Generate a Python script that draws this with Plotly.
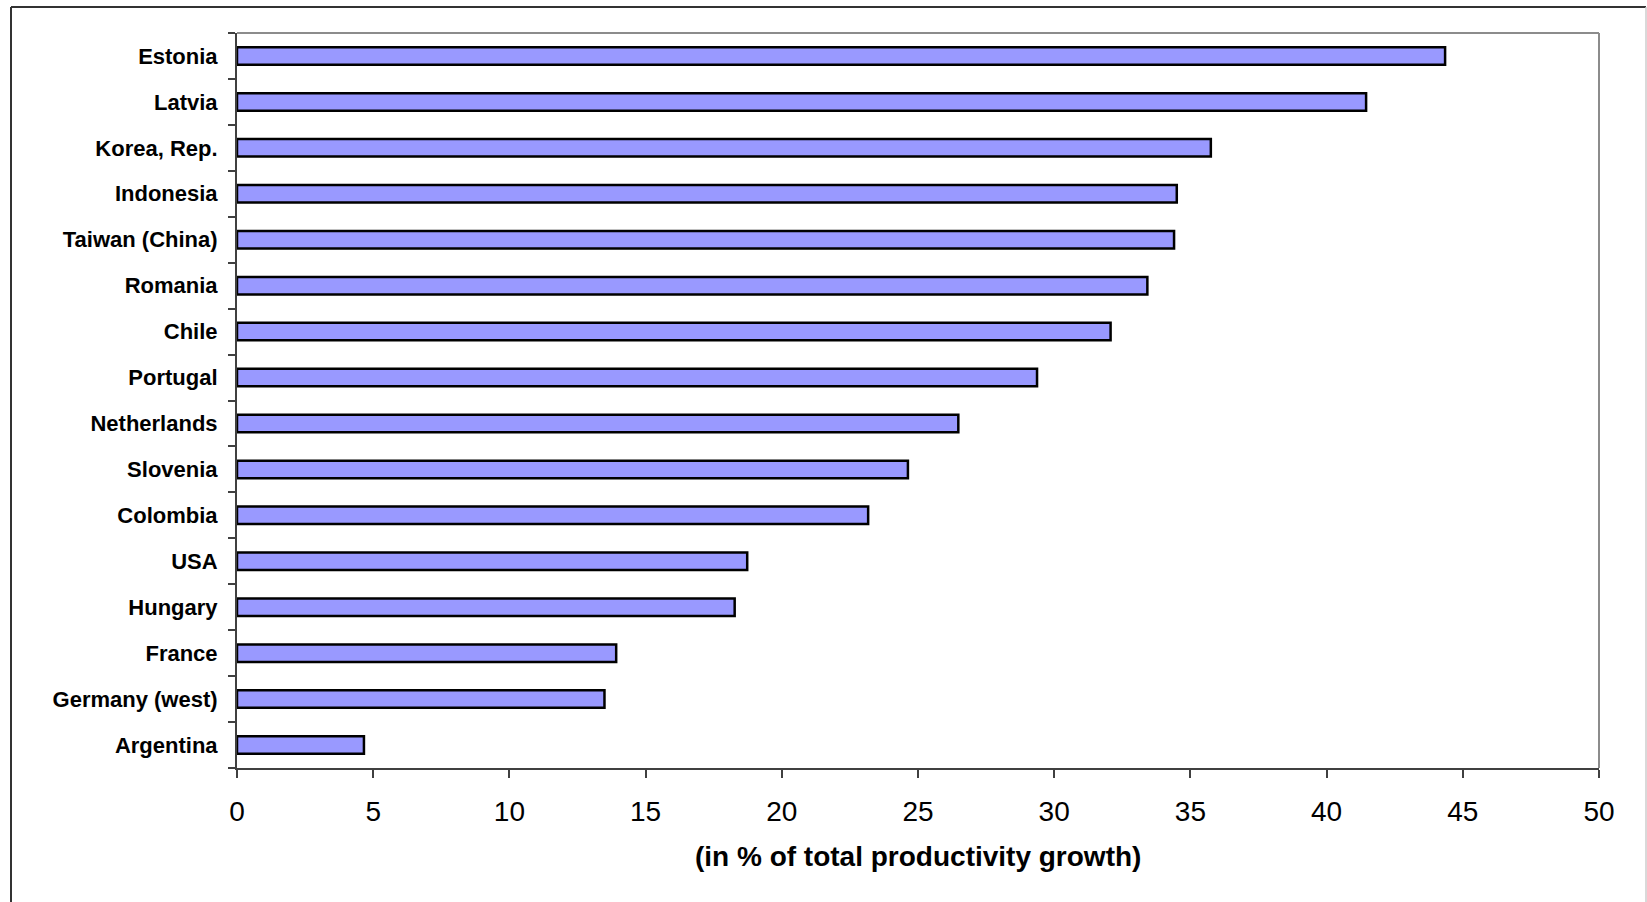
import plotly.graph_objects as go

countries = ["Estonia", "Latvia", "Korea, Rep.", "Indonesia", "Taiwan (China)", "Romania",
             "Chile", "Portugal", "Netherlands", "Slovenia", "Colombia", "USA", "Hungary",
             "France", "Germany (west)", "Argentina"]
values = [44.35, 41.45, 35.75, 34.5, 34.4, 33.42, 32.07, 29.37, 26.48, 24.63, 23.17,
          18.73, 18.27, 13.92, 13.49, 4.66]
x_ticks = [0, 5, 10, 15, 20, 25, 30, 35, 40, 45, 50]
x_title = "(in % of total productivity growth)"

W, H = 1647, 902
L, R, T, B = 237, 1599, 33, 768
pw, ph = R - L, B - T


def px(xp):
    return (xp - L) / pw


def py(yp):
    return (B - yp) / ph


fig = go.Figure(go.Bar(
    x=values, y=countries, orientation="h",
    width=0.38,
    marker=dict(color="#9999FF", line=dict(color="black", width=2.5)),
))

fig.update_layout(
    width=W, height=H,
    margin=dict(l=L, r=W - R, t=T, b=H - B, pad=0),
    paper_bgcolor="white", plot_bgcolor="white",
    showlegend=False,
    font=dict(family="Liberation Sans, Arial, sans-serif", color="black"),
)

fig.update_yaxes(
    type="category", categoryorder="array", categoryarray=countries[::-1],
    autorange=False, range=[-0.5, len(countries) - 0.5],
    showline=True, linecolor="#404040", linewidth=2,
    ticks="outside", ticklen=7, tickwidth=1.5, tickcolor="#404040",
    tickson="boundaries",
    tickfont=dict(size=22, family="Liberation Sans, Arial, sans-serif", weight="bold"),
    ticklabelstandoff=13,
    showgrid=False, zeroline=False,
)

fig.update_xaxes(
    range=[0, 50], tickvals=x_ticks, ticktext=[str(v) for v in x_ticks],
    showline=True, linecolor="#404040", linewidth=2,
    ticks="outside", ticklen=8, tickwidth=1.5, tickcolor="#404040",
    tickfont=dict(size=28),
    ticklabelstandoff=9,
    showgrid=False, zeroline=False,
)

shapes = [
    dict(type="line", xref="paper", yref="paper", x0=0, x1=1, y0=1, y1=1,
         line=dict(color="#8c8c8c", width=2)),
    dict(type="line", xref="paper", yref="paper", x0=1, x1=1, y0=0, y1=1,
         line=dict(color="#8c8c8c", width=2)),
    dict(type="line", xref="paper", yref="paper", x0=px(11), x1=px(11), y0=py(7), y1=py(915),
         line=dict(color="#333333", width=2)),
    dict(type="line", xref="paper", yref="paper", x0=px(11), x1=px(1646), y0=py(7), y1=py(7),
         line=dict(color="#333333", width=2)),
    dict(type="line", xref="paper", yref="paper", x0=px(1646), x1=px(1646), y0=py(7), y1=py(915),
         line=dict(color="#cccccc", width=1.5)),
]
fig.update_layout(shapes=shapes)

fig.add_annotation(
    x=0.5, y=py(856), xref="paper", yref="paper", text=x_title, showarrow=False,
    xanchor="center", yanchor="middle",
    font=dict(size=28, weight="bold", family="Liberation Sans, Arial, sans-serif"),
)

fig.write_html("out.html")
